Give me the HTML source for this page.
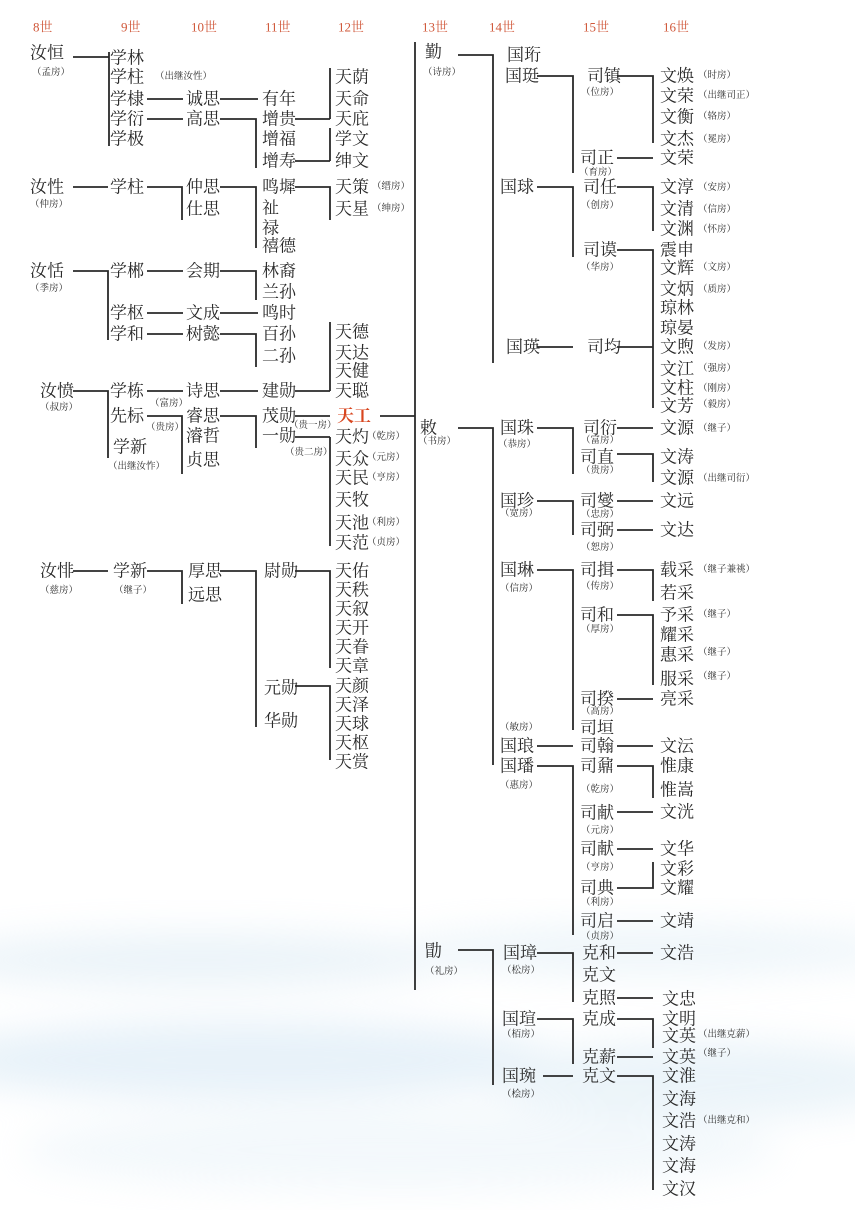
<!DOCTYPE html>
<html><head><meta charset="utf-8"><style>
html,body{margin:0;padding:0;background:#fff}
svg{display:block}
text{font-family:"Liberation Serif","Noto Serif CJK SC","Noto Sans CJK SC",serif;fill:#2a2a2a;dominant-baseline:central}
.n{font-size:17px}
.s{font-size:9.5px;fill:#555}
.h{font-size:13px;fill:#d0583a}
</style></head><body>
<svg width="855" height="1210" viewBox="0 0 855 1210" xmlns="http://www.w3.org/2000/svg">
<defs>
<filter id="bl"><feGaussianBlur stdDeviation="18"/></filter>
</defs>
<g filter="url(#bl)" opacity="0.4">
<ellipse cx="200" cy="960" rx="260" ry="28" fill="#cfe3f0"/>
<ellipse cx="650" cy="950" rx="260" ry="25" fill="#d6e8f3"/>
<ellipse cx="250" cy="1060" rx="320" ry="40" fill="#c5def0"/>
<ellipse cx="700" cy="1080" rx="220" ry="40" fill="#cfe4f1"/>
<ellipse cx="400" cy="1150" rx="380" ry="40" fill="#e2eff7"/>
</g>
<g class="h">
<text x="33" y="27" class="h">8世</text><text x="121" y="27" class="h">9世</text><text x="191" y="27" class="h">10世</text><text x="265" y="27" class="h">11世</text><text x="338" y="27" class="h">12世</text><text x="422" y="27" class="h">13世</text><text x="489" y="27" class="h">14世</text><text x="583" y="27" class="h">15世</text><text x="663" y="27" class="h">16世</text>
</g>
<g stroke="#2a2a2a" stroke-width="1.8" fill="none">
<path d="M73 57H109M109 52V146M147 99H183M147 119H183M220 99H258M220 119H256V168M295 119H330M330 68V119M295 161H330M330 128V161"/>
<path d="M73 187H108M147 187H182V220M220 187H256V248M295 187H330V220"/>
<path d="M73 271H108V340M147 271H183M147 313H183M147 334H183M220 271H256V300M220 313H258M220 334H256V367"/>
<path d="M330 322V391M295 391H330M295 416H330M330 437V546M295 437H330M380 416H415"/>
<path d="M73 391H108V458M147 391H183M147 416H182V474M220 391H258M220 416H256V448"/>
<path d="M73 571H108M147 571H182V604M220 571H256V727M295 571H330V668M295 686H330V760"/>
<path d="M415 42V990"/>
<path d="M458 55H493V363M537 76H573V173M617 76H653V143M617 158H653M537 187H573V257M617 187H653V231M617 250H653V408M537 347H573M617 347H653"/>
<path d="M458 428H493V765M537 428H573V474M617 428H653M617 454H653V482M537 501H573V535M617 501H653M617 530H653M537 570H573V730M617 570H653V601M617 615H653V685M617 699H653M537 746H573M617 746H653M537 766H573V935M617 766H653V798M617 812H653M617 849H653M617 888H653V862M617 921H653"/>
<path d="M458 950H493V1085M537 953H573V1002M617 953H653M617 998H653M537 1019H573V1064M617 1019H653V1048M617 1057H653M543 1076H573M617 1076H653V1190"/>
</g>
<g class="n">
<text x="30" y="53">汝恒</text><text x="110" y="58">学林</text><text x="110" y="77">学柱</text><text x="110" y="99">学棣</text><text x="110" y="119">学衍</text><text x="110" y="139">学极</text>
<text x="186" y="99">诚思</text><text x="186" y="119">高思</text>
<text x="262" y="99">有年</text><text x="262" y="119">增贵</text><text x="262" y="139">增福</text><text x="262" y="161">增寿</text>
<text x="335" y="77">天荫</text><text x="335" y="99">天命</text><text x="335" y="119">天庇</text><text x="335" y="139">学文</text><text x="335" y="161">绅文</text>
<text x="30" y="187">汝性</text><text x="110" y="187">学柱</text><text x="186" y="187">仲思</text><text x="186" y="209">仕思</text>
<text x="262" y="187">鸣墀</text><text x="262" y="208">祉</text><text x="262" y="228">禄</text><text x="262" y="246">禧德</text>
<text x="335" y="187">天策</text><text x="335" y="209">天星</text>
<text x="30" y="271">汝恬</text><text x="110" y="271">学郴</text><text x="110" y="313">学枢</text><text x="110" y="334">学和</text>
<text x="186" y="271">会期</text><text x="186" y="313">文成</text><text x="186" y="334">树懿</text>
<text x="262" y="271">林裔</text><text x="262" y="292">兰孙</text><text x="262" y="313">鸣时</text><text x="262" y="334">百孙</text><text x="262" y="356">二孙</text>
<text x="335" y="332">天德</text><text x="335" y="353">天达</text><text x="335" y="371">天健</text><text x="335" y="391">天聪</text>
<text x="337" y="416" style="fill:#d8461f;font-weight:bold">天工</text>
<text x="335" y="437">天灼</text><text x="335" y="459">天众</text><text x="335" y="478">天民</text><text x="335" y="500">天牧</text><text x="335" y="523">天池</text><text x="335" y="543">天范</text>
<text x="40" y="391">汝愤</text><text x="110" y="391">学栋</text><text x="110" y="416">先标</text><text x="113" y="447">学新</text>
<text x="186" y="391">诗思</text><text x="186" y="416">睿思</text><text x="186" y="436">濬哲</text><text x="186" y="460">贞思</text>
<text x="262" y="391">建勋</text><text x="262" y="416">茂勋</text><text x="262" y="436">一勋</text>
<text x="40" y="571">汝悱</text><text x="113" y="571">学新</text><text x="188" y="571">厚思</text><text x="188" y="595">远思</text>
<text x="264" y="571">尉勋</text><text x="264" y="688">元勋</text><text x="264" y="721">华勋</text>
<text x="335" y="571">天佑</text><text x="335" y="590">天秩</text><text x="335" y="609">天叙</text><text x="335" y="628">天开</text><text x="335" y="647">天眷</text><text x="335" y="666">天章</text><text x="335" y="686">天颜</text><text x="335" y="705">天泽</text><text x="335" y="724">天球</text><text x="335" y="743">天枢</text><text x="335" y="762">天赏</text>
<text x="425" y="52">勤</text><text x="507" y="55">国珩</text><text x="505" y="76">国珽</text>
<text x="587" y="76">司镇</text><text x="580" y="158">司正</text><text x="500" y="187">国球</text><text x="583" y="187">司任</text><text x="583" y="250">司谟</text>
<text x="506" y="347">国瑛</text><text x="587" y="347">司均</text>
<text x="660" y="76">文焕</text><text x="660" y="96">文荣</text><text x="660" y="117">文衡</text><text x="660" y="139">文杰</text><text x="660" y="158">文荣</text>
<text x="660" y="187">文淳</text><text x="660" y="209">文清</text><text x="660" y="229">文渊</text>
<text x="660" y="250">震申</text><text x="660" y="268">文辉</text><text x="660" y="289">文炳</text><text x="660" y="308">琼林</text><text x="660" y="328">琼晏</text><text x="660" y="347">文煦</text><text x="660" y="369">文江</text><text x="660" y="388">文柱</text><text x="660" y="406">文芳</text>
<text x="420" y="428">敕</text><text x="500" y="428">国珠</text><text x="583" y="428">司衍</text><text x="580" y="457">司直</text>
<text x="660" y="428">文源</text><text x="660" y="457">文涛</text><text x="660" y="478">文源</text>
<text x="500" y="501">国珍</text><text x="580" y="501">司燮</text><text x="580" y="530">司弼</text><text x="660" y="501">文远</text><text x="660" y="530">文达</text>
<text x="500" y="570">国琳</text><text x="580" y="570">司揖</text><text x="580" y="615">司和</text><text x="580" y="699">司揆</text><text x="580" y="728">司垣</text>
<text x="660" y="570">载采</text><text x="660" y="593">若采</text><text x="660" y="615">予采</text><text x="660" y="635">耀采</text><text x="660" y="655">惠采</text><text x="660" y="679">服采</text><text x="660" y="699">亮采</text>
<text x="500" y="746">国琅</text><text x="580" y="746">司翰</text><text x="660" y="746">文沄</text>
<text x="500" y="766">国璠</text><text x="580" y="766">司鼐</text><text x="660" y="766">惟康</text><text x="660" y="790">惟嵩</text>
<text x="580" y="813">司献</text><text x="660" y="812">文洸</text><text x="580" y="849">司献</text><text x="660" y="849">文华</text>
<text x="660" y="869">文彩</text><text x="660" y="888">文耀</text><text x="580" y="888">司典</text><text x="580" y="921">司启</text><text x="660" y="921">文靖</text>
<text x="425" y="951">勖</text><text x="503" y="953">国璋</text><text x="582" y="953">克和</text><text x="660" y="953">文浩</text><text x="582" y="975">克文</text><text x="582" y="998">克照</text><text x="662" y="999">文忠</text>
<text x="502" y="1019">国瑄</text><text x="582" y="1019">克成</text><text x="662" y="1019">文明</text><text x="662" y="1036">文英</text><text x="582" y="1057">克薪</text><text x="662" y="1057">文英</text>
<text x="502" y="1076">国琬</text><text x="582" y="1076">克文</text>
<text x="662" y="1076">文淮</text><text x="662" y="1099">文海</text><text x="662" y="1121">文浩</text><text x="662" y="1144">文涛</text><text x="662" y="1166">文海</text><text x="662" y="1189">文汉</text>
</g>
<g class="s">
<text x="32" y="73">（孟房）</text><text x="155" y="77">（出继汝性）</text>
<text x="30" y="205">（仲房）</text><text x="372" y="187">（缙房）</text><text x="372" y="209">（绅房）</text>
<text x="30" y="289">（季房）</text><text x="40" y="408">（叔房）</text>
<text x="150" y="404">（富房）</text><text x="146" y="428">（贵房）</text><text x="108" y="467">（出继汝怍）</text>
<text x="289" y="426">（贵一房）</text><text x="285" y="453">（贵二房）</text>
<text x="367" y="437">（乾房）</text><text x="367" y="458">（元房）</text><text x="367" y="478">（亨房）</text><text x="367" y="523">（利房）</text><text x="367" y="543">（贞房）</text>
<text x="40" y="591">（慈房）</text><text x="114" y="591">（继子）</text>
<text x="423" y="73">（诗房）</text><text x="581" y="93">（位房）</text><text x="579" y="173">（育房）</text><text x="581" y="206">（创房）</text><text x="581" y="268">（华房）</text>
<text x="698" y="76">（时房）</text><text x="698" y="96">（出继司正）</text><text x="698" y="117">（辂房）</text><text x="698" y="140">（冕房）</text>
<text x="698" y="188">（安房）</text><text x="698" y="210">（信房）</text><text x="698" y="230">（怀房）</text><text x="698" y="268">（文房）</text><text x="698" y="290">（质房）</text>
<text x="698" y="347">（发房）</text><text x="698" y="369">（强房）</text><text x="698" y="389">（刚房）</text><text x="698" y="405">（毅房）</text>
<text x="418" y="442">（书房）</text><text x="498" y="445">（恭房）</text><text x="581" y="441">（富房）</text><text x="581" y="471">（贵房）</text>
<text x="698" y="429">（继子）</text><text x="698" y="479">（出继司衍）</text>
<text x="500" y="514">（宽房）</text><text x="581" y="515">（忠房）</text><text x="581" y="548">（恕房）</text>
<text x="500" y="589">（信房）</text><text x="581" y="587">（传房）</text><text x="698" y="570">（继子兼祧）</text>
<text x="581" y="630">（厚房）</text><text x="698" y="615">（继子）</text><text x="698" y="653">（继子）</text><text x="698" y="677">（继子）</text>
<text x="581" y="712">（高房）</text><text x="500" y="728">（敏房）</text><text x="500" y="786">（惠房）</text>
<text x="581" y="790">（乾房）</text><text x="581" y="831">（元房）</text><text x="581" y="868">（亨房）</text><text x="581" y="903">（利房）</text><text x="581" y="937">（贞房）</text>
<text x="425" y="972">（礼房）</text><text x="502" y="971">（松房）</text><text x="502" y="1035">（栢房）</text><text x="502" y="1095">（桧房）</text>
<text x="698" y="1035">（出继克薪）</text><text x="698" y="1054">（继子）</text><text x="698" y="1121">（出继克和）</text>
</g>
</svg>
</body></html>
